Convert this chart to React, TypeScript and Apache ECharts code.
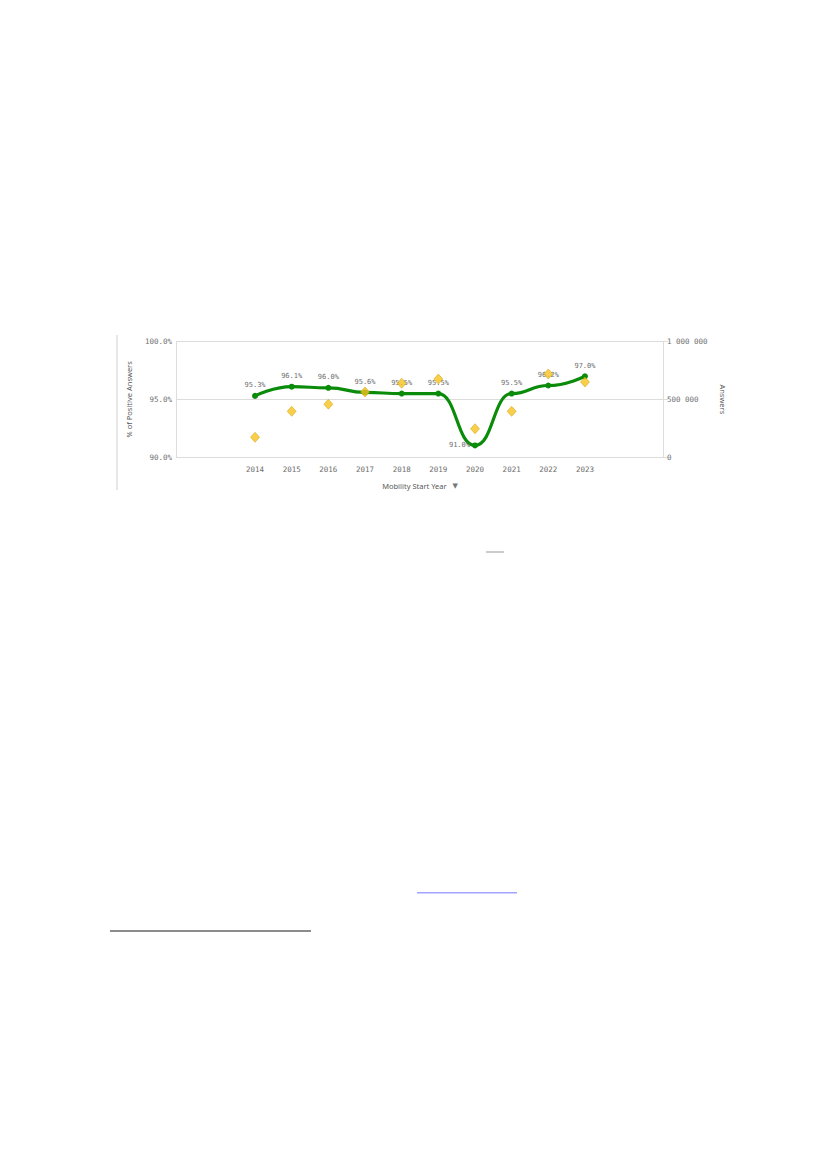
import { useEffect, useRef } from 'react';
import * as echarts from 'echarts';

const years = ['2014', '2015', '2016', '2017', '2018', '2019', '2020', '2021', '2022', '2023'];
const positivePct = [95.3, 96.1, 96.0, 95.6, 95.5, 95.5, 91.0, 95.5, 96.2, 97.0];
const answers = [171000, 396000, 457000, 564000, 639000, 676000, 245000, 396000, 720000, 650000];
const pctTicks = [90, 95, 100];
const answerTicks = [0, 500000, 1000000];

const monoFont = '"DejaVu Sans Mono", monospace';
const sansFont = '"Noto Sans", sans-serif';
const labelGray = '#6e6e6e';
const lineGray = '#dcdcdc';

const fmtAnswers = (v: number) => String(Math.round(v)).replace(/\B(?=(\d{3})+(?!\d))/g, ' ');

export default function App() {
    const chartRef = useRef<HTMLDivElement>(null);

    useEffect(() => {
        if (!chartRef.current) return;
        const chart = echarts.init(chartRef.current, undefined, { renderer: 'svg' });

        // frame grid spans the whole plot, data grid holds the ten year bands
        const top = 341.7;
        const height = 115.3;

        const option = {
            animation: false,
            grid: [
                { left: 176, top, width: 487, height },
                { left: 236.7, top, width: 366.6, height },
            ],
            xAxis: [
                { gridIndex: 0, type: 'value', min: 0, max: 1, show: false },
                {
                    gridIndex: 1,
                    type: 'category',
                    data: years,
                    boundaryGap: true,
                    axisLine: { show: false },
                    axisTick: { show: false },
                    axisLabel: { color: labelGray, fontFamily: monoFont, fontSize: 7.5, margin: 8 },
                    name: 'Mobility Start Year   {t|▼}',
                    nameLocation: 'middle',
                    nameGap: 25,
                    nameTextStyle: {
                        color: '#595959',
                        fontFamily: sansFont,
                        fontSize: 7.5,
                        rich: { t: { fontSize: 7, color: '#777', fontFamily: '"DejaVu Sans", sans-serif' } },
                    },
                },
            ],
            yAxis: [
                {
                    gridIndex: 0,
                    type: 'value',
                    position: 'left',
                    min: pctTicks[0],
                    max: pctTicks[pctTicks.length - 1],
                    interval: 5,
                    axisLine: { show: true, lineStyle: { color: lineGray } },
                    axisTick: { show: false },
                    splitLine: { show: true, lineStyle: { color: lineGray, width: 1 } },
                    axisLabel: {
                        color: labelGray,
                        fontFamily: monoFont,
                        fontSize: 7.5,
                        margin: 4,
                        formatter: (v: number) => `${v.toFixed(1)}%`,
                    },
                    name: '% of Positive Answers',
                    nameLocation: 'middle',
                    nameGap: 43,
                    nameTextStyle: { color: '#595959', fontFamily: sansFont, fontSize: 7.5 },
                },
                {
                    gridIndex: 0,
                    type: 'value',
                    position: 'right',
                    min: answerTicks[0],
                    max: answerTicks[answerTicks.length - 1],
                    interval: 500000,
                    axisLine: { show: true, lineStyle: { color: lineGray } },
                    axisTick: { show: true, length: 5, lineStyle: { color: lineGray } },
                    splitLine: { show: false },
                    axisLabel: {
                        color: labelGray,
                        fontFamily: monoFont,
                        fontSize: 7.5,
                        margin: 4,
                        formatter: fmtAnswers,
                    },
                    name: 'Answers',
                    nameLocation: 'middle',
                    nameRotate: -90,
                    nameGap: 50,
                    nameTextStyle: { color: '#595959', fontFamily: sansFont, fontSize: 7.5 },
                },
                { gridIndex: 1, type: 'value', min: 90, max: 100, show: false, splitLine: { show: false } },
                { gridIndex: 1, type: 'value', min: 0, max: 1000000, show: false, splitLine: { show: false } },
            ],
            series: [
                {
                    name: '% of Positive Answers',
                    type: 'line',
                    xAxisIndex: 1,
                    yAxisIndex: 2,
                    data: positivePct,
                    smooth: 0.5,
                    smoothMonotone: 'x',
                    symbol: 'circle',
                    symbolSize: 6,
                    lineStyle: { color: '#0a8c0a', width: 3.2 },
                    itemStyle: { color: '#0a8c0a' },
                    label: {
                        show: true,
                        position: 'top',
                        distance: 4,
                        color: labelGray,
                        fontFamily: monoFont,
                        fontSize: 7,
                        formatter: (p: any) => `${p.value.toFixed(1)}%`,
                    },
                    labelLayout: (params: any) =>
                        params.dataIndex === 6
                            ? { x: params.rect.x - 2, y: params.rect.y + params.rect.height / 2, align: 'right', verticalAlign: 'middle' }
                            : {},
                    z: 2,
                },
                {
                    name: 'Answers',
                    type: 'scatter',
                    xAxisIndex: 1,
                    yAxisIndex: 3,
                    data: answers,
                    symbol: 'diamond',
                    symbolSize: [9, 10],
                    itemStyle: { color: '#f7c21e', borderColor: '#c99a00', borderWidth: 0.6 },
                    z: 3,
                },
            ],
            graphic: [
                { type: 'line', shape: { x1: 117, y1: 335, x2: 117, y2: 490 }, style: { stroke: '#cfcfcf', lineWidth: 1 } },
                { type: 'line', shape: { x1: 486, y1: 552, x2: 504, y2: 552 }, style: { stroke: '#a8a8a8', lineWidth: 1.2 } },
                { type: 'line', shape: { x1: 417, y1: 892.7, x2: 517, y2: 892.7 }, style: { stroke: '#a3a3ff', lineWidth: 1.6 } },
                { type: 'line', shape: { x1: 110, y1: 931, x2: 311, y2: 931 }, style: { stroke: '#666666', lineWidth: 1.3 } },
            ],
        };

        chart.setOption(option);
        return () => {
            chart.dispose();
        };
    }, []);

    return (
        <div
            ref={chartRef}
            style={{ position: 'absolute', left: 0, top: 0, width: '827px', height: '1169px', background: '#fff' }}
        />
    );
}
